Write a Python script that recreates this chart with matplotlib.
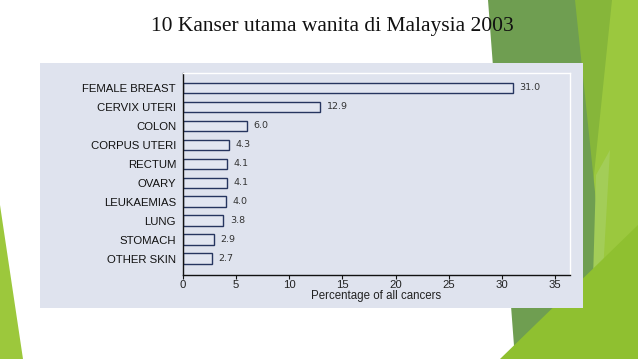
import matplotlib
matplotlib.use("Agg")
import matplotlib.pyplot as plt
from matplotlib.patches import Polygon, Rectangle

categories = ["FEMALE BREAST", "CERVIX UTERI", "COLON", "CORPUS UTERI", "RECTUM",
              "OVARY", "LEUKAEMIAS", "LUNG", "STOMACH", "OTHER SKIN"]
values = [31.0, 12.9, 6.0, 4.3, 4.1, 4.1, 4.0, 3.8, 2.9, 2.7]
xticks = [0, 5, 10, 15, 20, 25, 30, 35]
title = "10 Kanser utama wanita di Malaysia 2003"
xlabel = "Percentage of all cancers"

W, H = 638, 359
fig = plt.figure(figsize=(W / 100, H / 100), dpi=100)
fig.patch.set_facecolor("white")

def px(pts):
    return [(x / W, 1 - y / H) for x, y in pts]

# decorative background shapes (slide theme)
deco = [
    ([(572, 0), (622, 0), (610, 359), (585, 359)], "#86b63a"),
    ([(612, 0), (638, 0), (638, 359), (575, 359)], "#9bc83e"),
    ([(488, 0), (575, 0), (599, 230), (592, 300), (545, 359), (515, 359)], "#6f9e51"),
    ([(596, 175), (610, 150), (602, 290), (592, 315)], "#a3cd58"),
    ([(500, 359), (638, 225), (638, 359)], "#8fc030"),
    ([(0, 205), (0, 359), (23, 359)], "#9cc83c"),
]
for pts, c in deco:
    fig.patches.append(Polygon(px(pts), closed=True, transform=fig.transFigure,
                               facecolor=c, edgecolor="none", zorder=-3))

# chart panel
fig.patches.append(Rectangle((40 / W, 1 - 308 / H), 543 / W, 245 / H,
                             transform=fig.transFigure, facecolor="#dfe3ee",
                             edgecolor="none", zorder=-2))

ax = fig.add_axes([183 / W, 1 - 275 / H, 387 / W, 202 / H])
ax.set_zorder(2)
ax.set_facecolor("#dfe3ee")
ypos = list(range(len(categories)))
ax.barh(ypos, values, height=0.55, color="#e2e6f1", edgecolor="#26355f", linewidth=1.0)
ax.set_ylim(len(categories) - 1 + 0.87, -0.79)
ax.set_xlim(0, 36.4)
ax.set_yticks(ypos)
ax.set_yticklabels(categories, fontsize=8.2, family="Liberation Sans", color="#111111")
ax.tick_params(axis="y", length=0, pad=5)
ax.set_xticks(xticks)
ax.set_xticklabels([str(t) for t in xticks], fontsize=8.2, family="Liberation Sans", color="#222222")
ax.tick_params(axis="x", length=3, width=0.8, direction="out", pad=0.8, color="#111111")
ax.set_xlabel(xlabel, fontsize=8.3, family="Liberation Sans", labelpad=-0.5, color="#222222")

for sp in ["left", "bottom"]:
    ax.spines[sp].set_color("#111111")
    ax.spines[sp].set_linewidth(1.0)
for sp in ["top", "right"]:
    ax.spines[sp].set_color("white")
    ax.spines[sp].set_linewidth(1.0)

for y, v in zip(ypos, values):
    ax.annotate(f"{v:.1f}", xy=(v, y), xytext=(5, 0), textcoords="offset points",
                va="center", ha="left", fontsize=6.8, family="DejaVu Sans",
                color="#333333")

fig.text(332 / W, 1 - 27 / H, title, ha="center", va="center", fontsize=15.5,
         family="Liberation Serif", color="#111111")

fig.savefig("out.png", dpi=100)
